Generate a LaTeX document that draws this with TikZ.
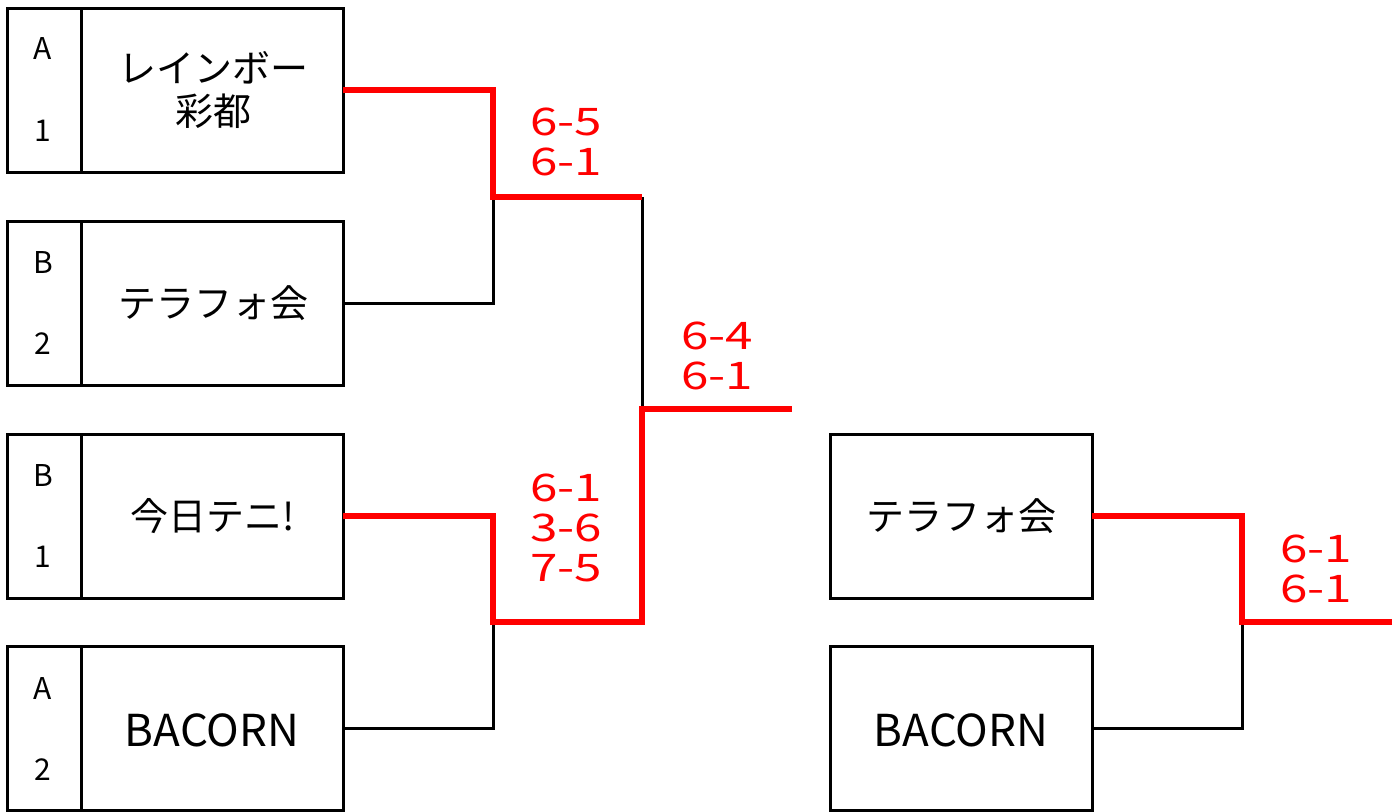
\documentclass[tikz,border=0pt]{standalone}
\usepackage{fontspec}
\setmainfont{Noto Sans CJK JP}
\newfontfamily\scorefont[FakeStretch=1.3]{Noto Sans CJK JP}
\begin{document}
\begin{tikzpicture}[x=0.75pt,y=-0.75pt,
  teambox/.style={draw, line width=2.25pt, rectangle, minimum width=252pt, minimum height=123pt, inner sep=0pt, outer sep=0pt},
  finalbox/.style={draw, line width=2.25pt, rectangle, minimum width=196.5pt, minimum height=123pt, inner sep=0pt, outer sep=0pt},
  seed/.style={font=\fontsize{22.5pt}{26pt}\selectfont, inner sep=0pt},
  team/.style={font=\fontsize{28.5pt}{32pt}\selectfont, align=center, inner sep=0pt},
  latin/.style={font=\fontsize{33pt}{36pt}\selectfont, inner sep=0pt},
  score/.style={font=\scorefont\fontsize{28.5pt}{30pt}\selectfont, text=red, align=left, inner sep=0pt, anchor=north west},
  loser/.style={draw=black, line width=2.25pt},
  winner/.style={draw=red, line width=4.5pt},
  divider/.style={draw=black, line width=2.25pt}]
\useasboundingbox (0,0) rectangle (1399,811);

% left column boxes
\node[teambox] (L1) at (175,90) {};
\node[teambox] (L2) at (175,303) {};
\node[teambox] (L3) at (175,516) {};
\node[teambox] (L4) at (175,728) {};
\foreach \b in {L1,L2,L3,L4}{
  \draw[divider] ([xshift=55.5pt]\b.north west) -- ([xshift=55.5pt]\b.south west);
}
% seeds
\node[seed] (s1a) at (43,49) {A};
\node[seed] (s1b) at (43,131) {1};
\node[seed] (s2a) at (43,262) {B};
\node[seed] (s2b) at (43,344) {2};
\node[seed] (s3a) at (43,475) {B};
\node[seed] (s3b) at (43,557) {1};
\node[seed] (s4a) at (43,688) {A};
\node[seed] (s4b) at (43,770) {2};
% team names
\node[team] (t1) at (213,90) {レインボー\\彩都};
\node[team] (t2) at (213,303) {テラフォ会};
\node[team] (t3) at (213,516) {今日テニ!};
\node[latin] (t4) at (212,730) {BACORN};

% right boxes
\node[finalbox] (R1) at (961,516) {};
\node[finalbox] (R2) at (961,728) {};
\node[team] (t5) at (961,516) {テラフォ会};
\node[latin] (t6) at (961,730) {BACORN};

% junctions
\coordinate (j1) at (493,197);
\coordinate (j2) at (493,622);
\coordinate (f1) at (642,409);
\coordinate (e1) at (792,409);
\coordinate (j3) at (1242,622);
\coordinate (e2) at (1392,622);

% losing lines
\draw[loser] (L2.east) -| (j1);
\draw[loser] (L4.east) -| (j2);
\draw[loser] (j1 -| f1) -- (f1);
\draw[loser] (R2.east) -| (j3);

% winning lines
\draw[winner] (L1.east) -| (j1) -- (j1 -| f1);
\draw[winner] (L3.east) -| (j2) -- (j2 -| f1) -- (f1) -- (e1);
\draw[winner] (R1.east) -| (j3) -- (e2);

% scores
\node[score] (sc1) at (530,108) {6-5\\6-1};
\node[score] (sc2) at (681,322) {6-4\\6-1};
\node[score] (sc3) at (530,474) {6-1\\3-6\\7-5};
\node[score] (sc4) at (1280,535) {6-1\\6-1};
\end{tikzpicture}
\end{document}
